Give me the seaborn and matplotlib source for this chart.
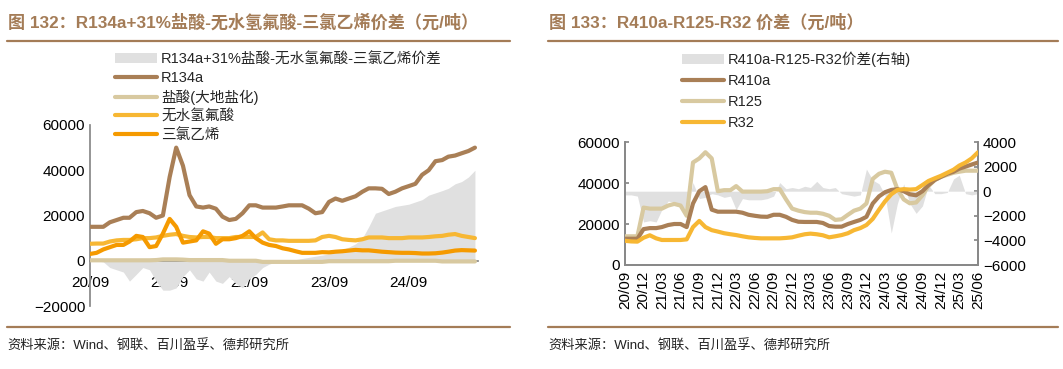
import numpy as np
import pandas as pd
import matplotlib
matplotlib.use("Agg")
import matplotlib.pyplot as plt
import matplotlib.dates as mdates
from matplotlib.lines import Line2D
from matplotlib.patches import Patch
import seaborn as sns

sns.set_theme(style="white")
FONT = ["Liberation Sans", "Noto Sans CJK SC", "DejaVu Sans"]
plt.rcParams["font.family"] = FONT

# ---------------- data: chart 132 (monthly, 2020-09 .. 2025-07) ----------------
left_dates = pd.date_range("2020-09-01", "2025-07-01", freq="MS")
r134a = [15000, 15000, 15000, 17000, 18000, 19000, 19000, 21500, 22000, 21000,
         19000, 20000, 37000, 50000, 42000, 29000, 24000, 23500, 24000, 23000,
         19500, 18000, 18500, 21000, 24500, 24500, 23500, 23500, 23500, 24000,
         24500, 24500, 24500, 23000, 21000, 21500, 26000, 27500, 26500, 27500,
         28500, 30500, 32000, 32000, 31800, 29500, 30500, 32000, 33000, 34000,
         38000, 40000, 44000, 44500, 46000, 46500, 47500, 48500, 50000]
hcl = [200, 200, 200, 200, 200, 200, 200, 200, 200, 200,
       300, 600, 600, 600, 500, 300, 300, 300, 300, 300,
       300, 0, 0, 0, 0, 0, -500, -500, -500, -500,
       -500, -500, -500, -500, -500, -500, -200, -200, -200, -200,
       -200, -200, -200, -200, -200, -200, 0, 0, 0, 0,
       0, 0, 0, -300, -300, -300, -300, -300, -300]
ahf = [7500, 7600, 7600, 8500, 9000, 9200, 9200, 9500, 10000, 10000,
       10300, 11000, 11500, 11800, 11000, 10500, 10300, 10500, 10500, 10000,
       10000, 10000, 10500, 10500, 10500, 10500, 12500, 9500, 9000, 9000,
       8800, 8800, 8800, 8800, 9000, 10500, 11000, 10500, 9500, 9200,
       9000, 9500, 10300, 10300, 10300, 10000, 10000, 10000, 10300, 10300,
       10300, 10500, 10800, 11000, 11500, 11800, 11000, 10500, 10000]
tce = [3000, 3500, 5000, 6000, 7000, 7000, 8500, 11000, 10500, 6000,
       6500, 12000, 18500, 15000, 8000, 8500, 9000, 13000, 12000, 7500,
       9500, 9500, 10000, 11000, 13000, 10000, 8000, 7000, 6500, 5500,
       5000, 4200, 3500, 3500, 3500, 3800, 3700, 4000, 4200, 4500,
       4800, 4600, 4600, 4300, 4000, 3800, 3600, 3500, 3500, 3400,
       3200, 3200, 3300, 3600, 4000, 4500, 4700, 4600, 4500]
spread132 = [0, 0, -500, -3000, -4000, -5000, -9000, -6000, -3000, -4000,
             -9000, -13000, -13000, -12000, -7000, -4000, -8000, -9000, -5000, -9000,
             -10000, -7000, -10000, -12000, -8000, -6000, -3000, -1500, -500, 0,
             0, 500, 1000, 1500, 2000, 2500, 3000, 4000, 5000, 6000,
             7500, 10000, 15000, 21000, 22000, 23000, 24000, 24500, 25000, 26000,
             27000, 29000, 30000, 31000, 32000, 34000, 35000, 37000, 40000]

# ---------------- data: chart 133 (monthly, 2020-09 .. 2025-06) ----------------
right_dates = pd.date_range("2020-09-01", "2025-06-01", freq="MS")
r410a = [12800, 12800, 12800, 17500, 18000, 18000, 18500, 19500, 20000, 20000,
         18500, 30000, 36000, 38000, 27000, 26000, 26000, 26000, 26000, 25500,
         24500, 24000, 23600, 23500, 24500, 24500, 23500, 22000, 21100, 21000,
         21000, 21000, 20500, 19000, 18700, 18700, 20000, 21000, 22000, 23500,
         30000, 33500, 35500, 36600, 37000, 36000, 34500, 34000, 36000, 39000,
         41500, 43000, 44500, 45500, 47000, 48000, 49000, 50000]
r125 = [14000, 14000, 14000, 28000, 27500, 27500, 27500, 29000, 29800, 29000,
        24000, 50000, 52000, 55000, 52000, 36000, 36500, 36500, 38500, 35800,
        35800, 35800, 35800, 36000, 37000, 37000, 32000, 27500, 26500, 25800,
        25500, 25500, 25000, 24000, 22000, 22300, 24500, 26500, 27500, 30000,
        42000, 44500, 45500, 45000, 37000, 32000, 30100, 30500, 34000, 38500,
        41500, 43000, 44000, 45000, 45500, 46000, 46000, 46000]
r32 = [11800, 11500, 11400, 13300, 14500, 13000, 12200, 12200, 12200, 12200,
       12500, 18500, 21500, 18500, 17000, 16300, 15500, 15000, 14600, 14000,
       13500, 13200, 13000, 13000, 13000, 13000, 13200, 13500, 14300, 15000,
       15300, 15000, 14500, 13500, 14000, 14600, 15500, 17000, 18000, 19500,
       22500, 27000, 31000, 34500, 36600, 37000, 36800, 37000, 39000, 41000,
       42300, 43500, 45000, 46500, 48500, 50000, 52000, 55000]
spread133 = [-300, -300, -400, -2500, -2400, -2500, -1500, -800, -900, -1200,
             -1500, 700, -600, -500, -200, -300, -500, -400, -1500, -600,
             -700, -700, -700, -600, -400, 700, 200, 300, 200, 400,
             300, 800, 300, 200, 300, -200, -300, -400, -300, 1800,
             900, 600, -300, -3400, -1000, 600, -1000, -1800, -1200, 500,
             -200, -200, -100, 1000, 1300, -200, -300, -200]

# ---------------- styling ----------------
C_GRAY = "#E0E0E0"
C_BROWN = "#A97F56"
C_BEIGE = "#D8C9A0"
C_YEL = "#F7B733"
C_ORG = "#F59A00"
C_TITLE = "#A47C57"
C_AX = "#888888"
LW = 3.0

W, H = 1063, 369
fig = plt.figure(figsize=(W / 100, H / 100), dpi=100)


def fx(px):
    return px / W


def fy(py):
    return 1 - py / H


def add_ax(x0, y0, x1, y1):
    return fig.add_axes([fx(x0), fy(y1), fx(x1 - x0), (y1 - y0) / H])


# header / footer decorations
for x0, x1, title in [(7, 510, "图 132：R134a+31%盐酸-无水氢氟酸-三氯乙烯价差（元/吨）"),
                      (548, 1058, "图 133：R410a-R125-R32 价差（元/吨）")]:
    fig.add_artist(Line2D([fx(x0), fx(x1)], [fy(41), fy(41)], color=C_TITLE, lw=1.6))
    fig.add_artist(Line2D([fx(x0), fx(x1)], [fy(327), fy(327)], color=C_TITLE, lw=1.6))
    fig.text(fx(x0 + 1), fy(22), title, color=C_TITLE, fontsize=12.3, fontweight="bold",
             va="center", ha="left", family=FONT)
    fig.text(fx(x0), fy(346), "资料来源：Wind、钢联、百川盈孚、德邦研究所", fontsize=9.5,
             color="#222222", va="center", ha="left", family=FONT)

# ---------------- left chart ----------------
dfl = pd.DataFrame({"date": left_dates, "R134a": r134a, "hcl": hcl, "ahf": ahf,
                    "tce": tce, "spread": spread132})
axl = add_ax(90, 125, 478, 306)
axl.fill_between(dfl["date"], 0, dfl["spread"], color=C_GRAY, lw=0, zorder=1)
sns.lineplot(data=dfl, x="date", y="hcl", ax=axl, color=C_BEIGE, lw=LW, zorder=3)
sns.lineplot(data=dfl, x="date", y="ahf", ax=axl, color=C_YEL, lw=LW, zorder=4)
sns.lineplot(data=dfl, x="date", y="tce", ax=axl, color=C_ORG, lw=LW, zorder=5)
sns.lineplot(data=dfl, x="date", y="R134a", ax=axl, color=C_BROWN, lw=LW, zorder=6)
axl.set_xlim(pd.Timestamp("2020-09-01"), pd.Timestamp("2025-07-15"))
axl.set_ylim(-20000, 60000)
axl.set_yticks([-20000, 0, 20000, 40000, 60000])
axl.xaxis.set_major_locator(mdates.MonthLocator(bymonth=[9]))
axl.xaxis.set_major_formatter(mdates.DateFormatter("%y/%m"))
for s in ["top", "right"]:
    axl.spines[s].set_visible(False)
axl.spines["bottom"].set_position(("data", 0))
axl.spines["left"].set_color(C_AX)
axl.spines["bottom"].set_color(C_AX)
axl.tick_params(axis="both", direction="in", length=3, color=C_AX, labelsize=11,
                labelcolor="black")
axl.tick_params(axis="x", pad=11)
axl.set_xlabel("")
axl.set_ylabel("")
axl.patch.set_alpha(0)

hl = [Patch(facecolor=C_GRAY, edgecolor="none"),
      Line2D([], [], color=C_BROWN, lw=3, solid_capstyle="round"),
      Line2D([], [], color=C_BEIGE, lw=3, solid_capstyle="round"),
      Line2D([], [], color=C_YEL, lw=3, solid_capstyle="round"),
      Line2D([], [], color=C_ORG, lw=3, solid_capstyle="round")]
ll = ["R134a+31%盐酸-无水氢氟酸-三氯乙烯价差", "R134a", "盐酸(大地盐化)", "无水氢氟酸", "三氯乙烯"]
fig.legend(hl, ll, loc="upper left", bbox_to_anchor=(fx(115), fy(52)), frameon=False,
           handlelength=2.9, handletextpad=0.25, labelspacing=0.31,
           borderaxespad=0, borderpad=0, prop={"family": FONT, "size": 10.5})

# ---------------- right chart ----------------
dfr = pd.DataFrame({"date": right_dates, "R410a": r410a, "R125": r125, "R32": r32,
                    "spread": spread133})
axr = add_ax(625, 142, 978, 265)
axr2 = axr.twinx()
axr2.fill_between(dfr["date"], 0, dfr["spread"], color=C_GRAY, lw=0, zorder=1)
axr2.set_ylim(-6000, 4000)
axr2.set_yticks([-6000, -4000, -2000, 0, 2000, 4000])
axr.set_zorder(axr2.get_zorder() + 1)
axr.patch.set_visible(False)
sns.lineplot(data=dfr, x="date", y="R125", ax=axr, color=C_BEIGE, lw=LW, zorder=3)
sns.lineplot(data=dfr, x="date", y="R410a", ax=axr, color=C_BROWN, lw=LW, zorder=4)
sns.lineplot(data=dfr, x="date", y="R32", ax=axr, color=C_YEL, lw=LW, zorder=5)
axr.set_xlim(pd.Timestamp("2020-09-01"), pd.Timestamp("2025-06-01"))
axr.set_ylim(0, 60000)
axr.set_yticks([0, 20000, 40000, 60000])
axr.xaxis.set_major_locator(mdates.MonthLocator(bymonth=[3, 6, 9, 12]))
axr.xaxis.set_major_formatter(mdates.DateFormatter("%y/%m"))
axr.set_xlabel("")
axr.set_ylabel("")
axr2.set_ylabel("")
for a in (axr, axr2):
    a.spines["top"].set_visible(False)
    for s in ["left", "right", "bottom"]:
        a.spines[s].set_color(C_AX)
    a.tick_params(axis="both", direction="in", length=3, color=C_AX, labelsize=11,
                  labelcolor="black")
axr.tick_params(axis="x", rotation=90, pad=4)

hr = [Patch(facecolor=C_GRAY, edgecolor="none"),
      Line2D([], [], color=C_BROWN, lw=3, solid_capstyle="round"),
      Line2D([], [], color=C_BEIGE, lw=3, solid_capstyle="round"),
      Line2D([], [], color=C_YEL, lw=3, solid_capstyle="round")]
lr = ["R410a-R125-R32价差(右轴)", "R410a", "R125", "R32"]
fig.legend(hr, lr, loc="upper left", bbox_to_anchor=(fx(682), fy(52)), frameon=False,
           handlelength=2.9, handletextpad=0.25, labelspacing=0.47,
           borderaxespad=0, borderpad=0, prop={"family": FONT, "size": 10.5})

fig.savefig("out.png", dpi=100)
